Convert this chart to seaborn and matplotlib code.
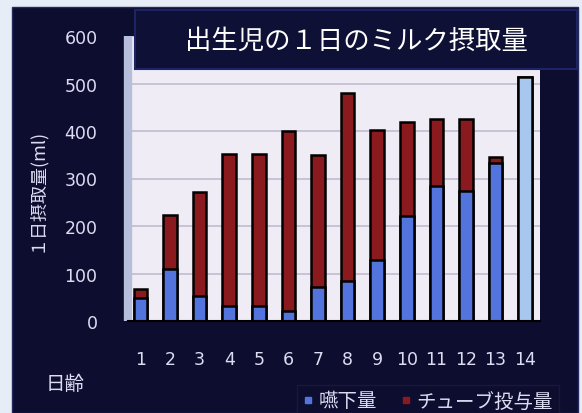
import matplotlib
matplotlib.use("Agg")
import matplotlib.pyplot as plt
from matplotlib.patches import Rectangle
from matplotlib.lines import Line2D
import seaborn as sns
import pandas as pd

# Daily milk intake of a newborn (ml), by day of life
days = ["1", "2", "3", "4", "5", "6", "7", "8", "9", "10", "11", "12", "13", "14"]
swallowed = [48, 109, 53, 32, 32, 21, 71, 84, 128, 221, 284, 273, 332, 513]
tube_fed = [19, 114, 218, 319, 319, 380, 278, 395, 275, 197, 142, 153, 13, 0]
y_ticks = [0, 100, 200, 300, 400, 500, 600]

title = "出生児の１日のミルク摂取量"
y_label = "１日摂取量(ml)"
x_label = "日齢"
series_names = ["嚥下量", "チューブ投与量"]

df = pd.DataFrame({"day": days, "swallowed": swallowed, "tube": tube_fed})
df["total"] = df["swallowed"] + df["tube"]

sns.set_theme(style="white")
jp = ["Noto Sans CJK JP", "DejaVu Sans"]
plt.rcParams["font.family"] = jp

NAVY = "#0d0d30"
BLUE = "#5274dc"
LIGHT_BLUE = "#a9c6ee"
RED = "#8a1a1e"
TXT = "#dcdcf2"

W, H = 582, 414
fig = plt.figure(figsize=(W / 100, H / 100), dpi=100, facecolor="#e6edf6")

# dark panel behind the whole chart
fig.patches.append(Rectangle((12 / W, 0), (578 - 12) / W, 1 - 8 / H,
                             transform=fig.transFigure, facecolor=NAVY,
                             edgecolor="#262a5a", lw=1.0, zorder=-10))

ax = fig.add_axes([128 / W, (H - 322) / H, (540 - 128) / W, (322 - 37) / H])
ax.set_facecolor("#efecf6")

# stacked bars: total (tube on top) first, swallowed amount over it
sns.barplot(data=df, x="day", y="total", color=RED, width=0.46,
            edgecolor="black", linewidth=1.8, saturation=1, ax=ax)
sns.barplot(data=df, x="day", y="swallowed", color=BLUE, width=0.46,
            edgecolor="black", linewidth=1.8, saturation=1, ax=ax)
ax.patches[-1].set_facecolor(LIGHT_BLUE)

ax.set_ylim(0, 600)
ax.set_xlim(-0.42, 13.5)
ax.set_yticks(y_ticks)
ax.yaxis.grid(True, color="#c4c0d2", lw=1.3)
ax.set_axisbelow(True)
for s in ["top", "right"]:
    ax.spines[s].set_visible(False)
ax.spines["left"].set_color("#b6bedc")
ax.spines["left"].set_linewidth(6)
ax.spines["left"].set_capstyle("butt")
ax.spines["bottom"].set_color("black")
ax.spines["bottom"].set_linewidth(1.5)

ax.tick_params(axis="both", length=0, colors=TXT, labelsize=12.5)
ax.tick_params(axis="y", pad=22)
ax.tick_params(axis="x", pad=21)
for lab in ax.get_xticklabels() + ax.get_yticklabels():
    lab.set_family(["DejaVu Sans"])
ax.set_xlabel("")
ax.set_ylabel("")

fig.text(36 / W, 1 - 190 / H, y_label, rotation=90, ha="center", va="center",
         color=TXT, fontsize=13)
fig.text(65 / W, 1 - 385 / H, x_label, ha="center", va="center",
         color=TXT, fontsize=14)

# title banner overlapping the top of the plot
fig.patches.append(Rectangle((135 / W, 1 - 70 / H), (577 - 135) / W, (70 - 11) / H,
                             transform=fig.transFigure, facecolor="#0f1036",
                             edgecolor="#1c2466", lw=1.5, zorder=5))
fig.text(356 / W, 1 - 41 / H, title, ha="center", va="center", color="white",
         fontsize=19, zorder=6)

handles = [Line2D([], [], marker="s", ls="", color=c, markersize=4)
           for c in (BLUE, RED)]
leg = fig.legend(handles, series_names, loc="center", ncol=2,
                 bbox_to_anchor=(428 / W, 1 - 402 / H), frameon=True,
                 fontsize=14, handlelength=0.5, handletextpad=0.3,
                 columnspacing=1.2, borderpad=0.2)
leg.get_frame().set_facecolor(NAVY)
leg.get_frame().set_edgecolor("#1a1c40")
leg.get_frame().set_boxstyle("square", pad=0.1)
for t in leg.get_texts():
    t.set_color(TXT)

fig.savefig("out.png", dpi=100, facecolor=fig.get_facecolor())
